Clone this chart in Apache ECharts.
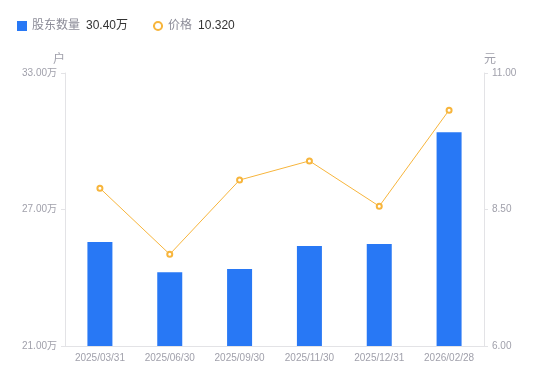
<!DOCTYPE html>
<html><head><meta charset="utf-8">
<script src="https://cdn.jsdelivr.net/npm/echarts@6/dist/echarts.min.js"></script>
<style>html,body{margin:0;padding:0;background:#fff}#c{width:550px;height:381px}</style>
</head><body><div id="c"></div>
<script>
var categories = ['2025/03/31','2025/06/30','2025/09/30','2025/11/30','2025/12/31','2026/02/28'];
var holders = [25.57, 24.24, 24.38, 25.40, 25.48, 30.40];
var prices = [8.89, 7.68, 9.04, 9.39, 8.56, 10.32];
var leftTicks = {min: 21, max: 33, interval: 6};
var rightTicks = {min: 6, max: 11, interval: 2.5};

var font = '"Liberation Sans", Arial, "Noto Sans CJK SC", sans-serif';
var chart = echarts.init(document.getElementById('c'));
chart.setOption({
  animation: false,
  textStyle: {fontFamily: font},
  legend: {
    left: 12, top: 15, itemWidth: 10, itemHeight: 10, itemGap: 24,
    data: [{name: '股东数量', icon: 'rect'}, {name: '价格'}],
    formatter: function (n) {
      if (n === '股东数量') return '{n|' + n + '}{v|' + holders[holders.length-1].toFixed(2) + '万}';
      return '{n|' + n + '}{v|' + prices[prices.length-1].toFixed(3) + '}';
    },
    textStyle: {
      fontFamily: font,
      rich: {
        n: {color: '#8c8c98', fontSize: 12, fontFamily: font},
        v: {color: '#333', fontSize: 12, fontFamily: font, padding: [0, 0, 0, 6]}
      }
    }
  },
  grid: {left: 65, right: 66, top: 73, bottom: 35},
  xAxis: {
    type: 'category', data: categories,
    axisLine: {lineStyle: {color: '#e3e3e6'}},
    axisTick: {show: false},
    axisLabel: {color: '#a0a0ab', fontSize: 10, margin: 7, interval: 0, fontFamily: font}
  },
  yAxis: [{
    type: 'value', name: '户', min: leftTicks.min, max: leftTicks.max, interval: leftTicks.interval,
    nameTextStyle: {color: '#a0a0ab', fontSize: 12, align: 'right', padding: [0, 0, 0, 0]},
    nameGap: 7,
    axisLine: {show: true, lineStyle: {color: '#e3e3e6'}},
    axisTick: {show: true, length: 4, lineStyle: {color: '#e3e3e6'}},
    splitLine: {show: false},
    axisLabel: {color: '#a0a0ab', fontSize: 10, margin: 8, formatter: function (v) { return v.toFixed(2) + '万'; }}
  }, {
    type: 'value', name: '元', min: rightTicks.min, max: rightTicks.max, interval: rightTicks.interval,
    nameTextStyle: {color: '#a0a0ab', fontSize: 12, align: 'left', padding: [0, 0, 0, 0]},
    nameGap: 7,
    axisLine: {show: true, lineStyle: {color: '#e3e3e6'}},
    axisTick: {show: true, length: 4, lineStyle: {color: '#e3e3e6'}},
    splitLine: {show: false},
    axisLabel: {color: '#a0a0ab', fontSize: 10, margin: 8, formatter: function (v) { return v.toFixed(2); }}
  }],
  series: [{
    name: '股东数量', type: 'bar', yAxisIndex: 0, data: holders, barWidth: 25,
    itemStyle: {color: '#2878f5'}
  }, {
    name: '价格', type: 'line', yAxisIndex: 1, data: prices,
    symbol: 'emptyCircle', symbolSize: 5,
    lineStyle: {color: '#f7b53c', width: 1},
    itemStyle: {color: '#f7b53c', borderWidth: 2}
  }]
});
</script></body></html>
